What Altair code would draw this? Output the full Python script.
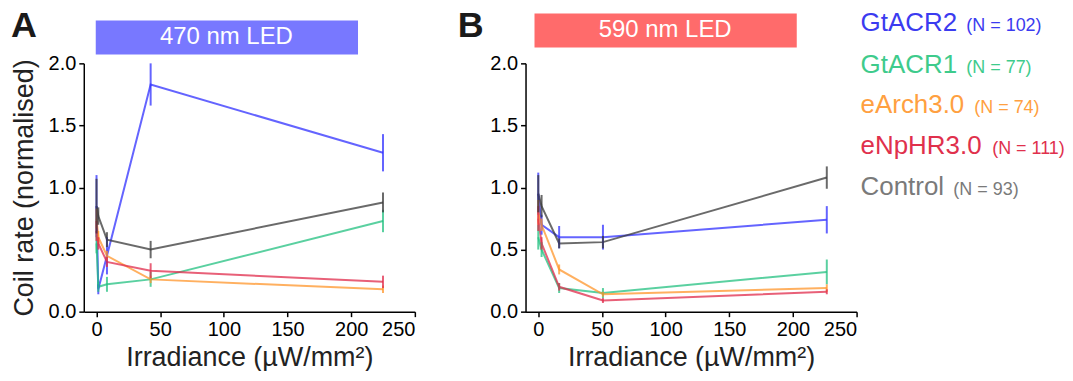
import altair as alt
import pandas as pd

FONT = "Liberation Sans"

series = ["GtACR2", "GtACR1", "eArch3.0", "eNpHR3.0", "Control"]
n_labels = ["(N = 102)", "(N = 77)", "(N = 74)", "(N = 111)", "(N = 93)"]
line_colors = ["#3030ff", "#23c080", "#ff952b", "#e02b4b", "#383838"]
text_colors = ["#3b3bf0", "#3ecb8c", "#ffa040", "#e0304c", "#7a7a7a"]

# Panel A: 470 nm LED
x_a = [0, 1.4, 8.2, 42.5, 225]
a_gtacr2 = [0.85, 0.18, 0.45, 1.83, 1.28]
a_gtacr2_err = [0.25, 0.04, 0.15, 0.17, 0.15]
a_gtacr1 = [0.55, 0.20, 0.22, 0.26, 0.73]
a_gtacr1_err = [0.08, 0.04, 0.06, 0.06, 0.09]
a_earch = [0.75, 0.60, 0.45, 0.26, 0.18]
a_earch_err = [0.08, 0.05, 0.04, 0.03, 0.03]
a_enphr = [0.65, 0.55, 0.40, 0.33, 0.24]
a_enphr_err = [0.08, 0.05, 0.04, 0.06, 0.05]
a_control = [0.85, 0.77, 0.58, 0.50, 0.88]
a_control_err = [0.22, 0.07, 0.06, 0.07, 0.08]

# Panel B: 590 nm LED
x_b = [0, 2.6, 16.4, 50.8, 226.6]
b_gtacr2 = [0.95, 0.70, 0.60, 0.60, 0.74]
b_gtacr2_err = [0.17, 0.08, 0.09, 0.10, 0.11]
b_gtacr1 = [0.60, 0.50, 0.19, 0.15, 0.32]
b_gtacr1_err = [0.10, 0.06, 0.04, 0.04, 0.10]
b_earch = [0.80, 0.70, 0.34, 0.14, 0.19]
b_earch_err = [0.10, 0.05, 0.04, 0.02, 0.03]
b_enphr = [0.75, 0.55, 0.20, 0.09, 0.16]
b_enphr_err = [0.10, 0.05, 0.03, 0.02, 0.02]
b_control = [0.95, 0.85, 0.55, 0.56, 1.08]
b_control_err = [0.15, 0.09, 0.04, 0.05, 0.09]

x_ticks = [0, 50, 100, 150, 200, 250]
y_ticks = [0.0, 0.5, 1.0, 1.5, 2.0]


def make_df(xs, means, errs):
    rows = []
    for s, m, e in zip(series, means, errs):
        for xv, mv, ev in zip(xs, m, e):
            rows.append({"series": s, "x": xv, "y": mv, "lo": mv - ev, "hi": mv + ev})
    return pd.DataFrame(rows)


df_a = make_df(x_a, [a_gtacr2, a_gtacr1, a_earch, a_enphr, a_control],
               [a_gtacr2_err, a_gtacr1_err, a_earch_err, a_enphr_err, a_control_err])
df_b = make_df(x_b, [b_gtacr2, b_gtacr1, b_earch, b_enphr, b_control],
               [b_gtacr2_err, b_gtacr1_err, b_earch_err, b_enphr_err, b_control_err])

W, H = 332, 249

color_enc = alt.Color("series:N", scale=alt.Scale(domain=series, range=line_colors), legend=None)


def panel(df, letter, box_text, box_color, box_pos, text_pos, letter_pos, ytitle):
    base = alt.Chart(df)
    xsc = alt.Scale(domain=[-10, 250], nice=False, zero=False)
    ysc = alt.Scale(domain=[0, 2], nice=False)
    xax = alt.Axis(values=x_ticks, title="Irradiance (µW/mm²)", format="d")
    yax = alt.Axis(values=y_ticks, format=".1f", title=ytitle if ytitle else None)
    lines = base.mark_line(strokeWidth=2, opacity=0.75).encode(
        x=alt.X("x:Q", scale=xsc, axis=xax),
        y=alt.Y("y:Q", scale=ysc, axis=yax),
        color=color_enc,
    )
    errs = base.mark_rule(strokeWidth=2, opacity=0.75).encode(
        x="x:Q", y="lo:Q", y2="hi:Q", color=color_enc
    )
    lab = pd.DataFrame({"t": [box_text], "l": [letter]})
    box = alt.Chart(lab).mark_rect(color=box_color).encode(
        x=alt.value(box_pos[0]), x2=alt.value(box_pos[1]),
        y=alt.value(box_pos[2]), y2=alt.value(box_pos[3]),
    )
    btxt = alt.Chart(lab).mark_text(
        color="white", fontSize=24, font=FONT, align="center", baseline="middle"
    ).encode(x=alt.value(text_pos[0]), y=alt.value(text_pos[1]), text="t:N")
    ltxt = alt.Chart(lab).mark_text(
        color="#1a1a1a", fontSize=36, font=FONT, fontWeight="bold",
        align="left", baseline="middle"
    ).encode(x=alt.value(letter_pos[0]), y=alt.value(letter_pos[1]), text="l:N")
    return alt.layer(lines, errs, box, btxt, ltxt)


pa = panel(df_a, "A", "470 nm LED", "#7878ff", (12, 275, -43, -9), (143, -26), (-73, -37),
           "Coil rate (normalised)")
pb = panel(df_b, "B", "590 nm LED", "#ff6b6b", (9, 272, -50, -16), (140, -33), (-68, -37), None)

# legend (text only)
legend_y = [-32, 10, 50, 91, 132]
legend_nx = [442, 442, 450, 468, 429]
leg = pd.DataFrame({"series": series, "n": n_labels, "tc": text_colors,
                    "ly": legend_y, "nx": legend_nx})
leg_name = alt.Chart(leg).mark_text(
    fontSize=26, font=FONT, align="left", baseline="alphabetic"
).encode(x=alt.value(336), y=alt.Y("ly:Q", scale=None), text="series:N",
         color=alt.Color("tc:N", scale=None))
leg_n = alt.Chart(leg).mark_text(
    fontSize=18, font=FONT, align="left", baseline="alphabetic"
).encode(x=alt.X("nx:Q", scale=None), y=alt.Y("ly:Q", scale=None), text="n:N",
         color=alt.Color("tc:N", scale=None))

pb = alt.layer(pb, leg_name, leg_n)

chart = alt.hconcat(
    pa.properties(width=W, height=H),
    pb.properties(width=W, height=H),
    spacing=111,
    bounds="flush",
).properties(
    padding={"left": 2, "top": 0, "right": 0, "bottom": 0}
).configure_view(stroke=None).configure_axis(
    grid=False,
    domainColor="black",
    domainWidth=1.5,
    tickColor="black",
    tickWidth=1.5,
    tickSize=5,
    labelFont=FONT,
    labelFontSize=20,
    labelColor="black",
    labelPadding=3,
    titleFont=FONT,
    titleFontSize=27,
    titleFontWeight="normal",
    titleColor="#222222",
).configure_axisY(titlePadding=10).configure_axisX(titlePadding=5).configure_text(font=FONT)

chart.save("out.html", embed_options={"renderer": "svg", "actions": False})
